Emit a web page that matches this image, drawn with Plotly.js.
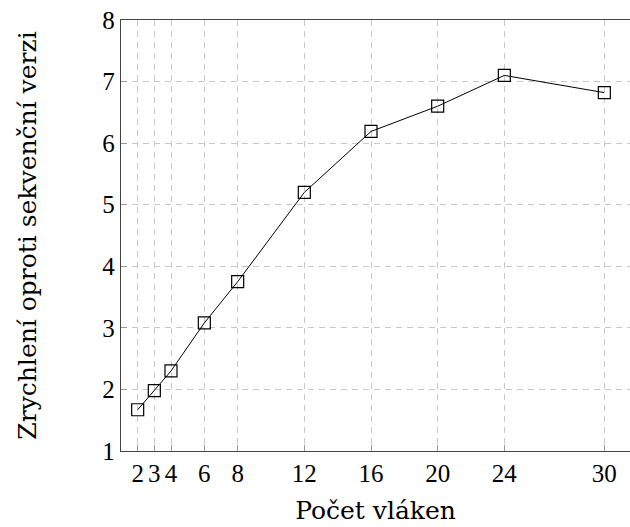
<!DOCTYPE html>
<html>
<head>
<meta charset="utf-8">
<script src="https://cdn.plot.ly/plotly-3.0.1.min.js"></script>
<style>
  html, body { margin: 0; padding: 0; background: #fff; overflow: hidden; }
  #chart { width: 630px; height: 527px; }
</style>
</head>
<body>
<div id="chart"></div>
<script>
// Speedup over the sequential version by number of threads
const threads = [2, 3, 4, 6, 8, 12, 16, 20, 24, 30];
const speedup = [1.67, 1.98, 2.30, 3.08, 3.75, 5.20, 6.19, 6.60, 7.10, 6.82];
const xTicks = [2, 3, 4, 6, 8, 12, 16, 20, 24, 30];
const yTicks = [1, 2, 3, 4, 5, 6, 7, 8];

const serif = 'Liberation Serif, DejaVu Serif, serif';
const titleSerif = 'DejaVu Serif, Liberation Serif, serif';

const trace = {
  x: threads,
  y: speedup,
  type: 'scatter',
  mode: 'lines+markers',
  line: { color: '#000', width: 1 },
  marker: {
    symbol: 'square-open',
    size: 12,
    color: '#000',
    line: { color: '#000', width: 1.2 }
  },
  hoverinfo: 'x+y'
};

const axisCommon = {
  showline: true,
  linecolor: '#444',
  linewidth: 1.3,
  mirror: true,
  ticks: 'inside',
  ticklen: 6,
  tickcolor: '#999',
  tickwidth: 1,
  showgrid: true,
  gridcolor: '#c8c8c8',
  gridwidth: 1,
  griddash: '6px,5px',
  zeroline: false,
  tickfont: { family: serif, size: 25, color: '#000' }
};

const layout = {
  width: 630,
  height: 527,
  margin: { l: 121, r: 0, t: 20, b: 76 },
  paper_bgcolor: '#fff',
  plot_bgcolor: '#fff',
  showlegend: false,
  xaxis: Object.assign({}, axisCommon, {
    range: [1, 31.54],
    tickmode: 'array',
    tickvals: xTicks,
    ticktext: xTicks.map(String),
    tickangle: 0,
    title: { text: 'Počet vláken', font: { family: titleSerif, size: 25, color: '#000' }, standoff: 15 }
  }),
  yaxis: Object.assign({}, axisCommon, {
    range: [1, 8],
    tickmode: 'array',
    tickvals: yTicks,
    ticktext: yTicks.map(String),
    title: { text: 'Zrychlení oproti sekvenční verzi', font: { family: titleSerif, size: 25, color: '#000' }, standoff: 58 }
  })
};

Plotly.newPlot('chart', [trace], layout, { displayModeBar: false, staticPlot: true });
</script>
</body>
</html>
